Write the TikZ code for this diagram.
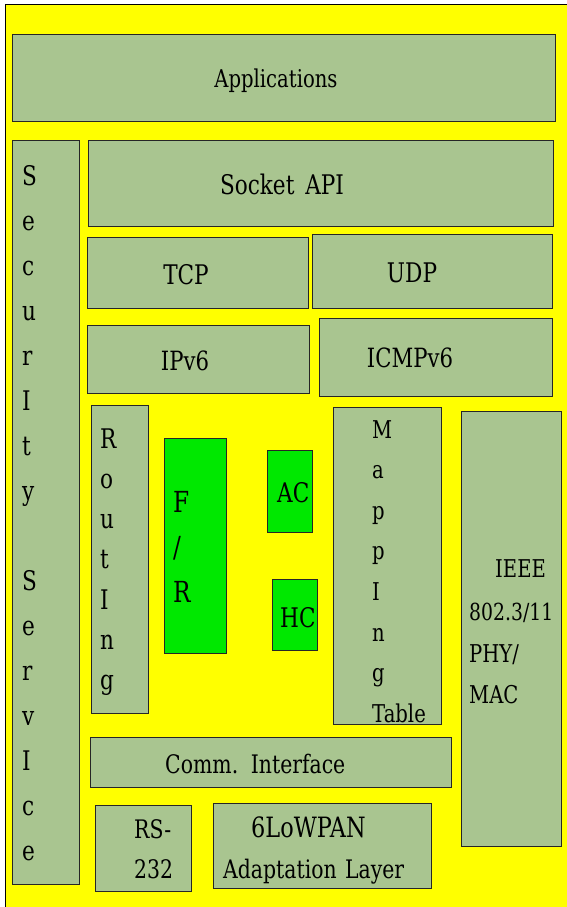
\documentclass[tikz,border=0pt]{standalone}
\usepackage{fontspec}
\setmainfont{DejaVu Serif}[FakeStretch=0.8]
\usetikzlibrary{fit}
\definecolor{sage}{RGB}{169,197,144}
\definecolor{brightgreen}{RGB}{0,232,0}
\definecolor{bgyellow}{RGB}{255,255,0}
\newcommand\fsz[1]{\fontsize{#1}{#1}\selectfont}
\begin{document}
\begin{tikzpicture}[x=1pt,y=-1pt,
  box/.style={draw=black!85, line width=0.9pt, fill=sage, inner sep=0pt},
  gbox/.style={box, fill=brightgreen},
  lbl/.style={anchor=base west, inner sep=0pt, text=black},
  clbl/.style={anchor=base, inner sep=0pt, text=black}]
\useasboundingbox (0,0) rectangle (567,907);
\clip (0,0) rectangle (567,907);
\node[fill=bgyellow, draw=black, line width=1pt, fit={(5,5) (575,915)}, inner sep=0pt] (bg) {};
% boxes
\node[box, fit={(12,34) (555,121)}] (app) {};
\node[box, fit={(12,140) (79,884)}] (sec) {};
\node[box, fit={(88,140) (553,226)}] (sock) {};
\node[box, fit={(87,237) (308,308)}] (tcp) {};
\node[box, fit={(312,234) (552,308)}] (udp) {};
\node[box, fit={(87,325) (309,393)}] (ipv6) {};
\node[box, fit={(319,318) (552,396)}] (icmp) {};
\node[box, fit={(91,405) (148,713)}] (rout) {};
\node[gbox, fit={(164,438) (226,653)}] (fr) {};
\node[gbox, fit={(267,450) (312,532)}] (ac) {};
\node[gbox, fit={(272,579) (317,650)}] (hc) {};
\node[box, fit={(333,407) (441,724)}] (map) {};
\node[box, fit={(461,411) (561,846)}] (ieee) {};
\node[box, fit={(90,737) (451,787)}] (comm) {};
\node[box, fit={(95,805) (191,891)}] (rs) {};
\node[box, fit={(213,803) (431,888)}] (lowpan) {};
% labels
\node[clbl, font=\fsz{24.5}] (tapp) at (276,88) {Applications};
\node[clbl, font=\fsz{27}] (tsock) at (282,194) {Socket\hspace{4pt} API};
\node[clbl, font=\fsz{27}] (ttcp) at (186,284) {TCP};
\node[clbl, font=\fsz{27}] (tudp) at (412,282) {UDP};
\node[clbl, font=\fsz{26.5}] (tipv6) at (185,370) {IPv6};
\node[clbl, font=\fsz{26.5}] (ticmp) at (410,367) {ICMPv6};
\foreach \c [count=\i from 0] in {S,e,c,u,r,I,t,y,,S,e,r,v,I,c,e}
  \node[lbl, font=\fsz{27}] (sec\i) at (22,185+45*\i) {\c};
\foreach \c [count=\i from 0] in {R,o,u,t,I,n,g}
  \node[lbl, font=\fsz{27}] (rt\i) at (100,448+40.3*\i) {\c};
\foreach \c [count=\i from 0] in {F,/,R}
  \node[lbl, font=\fsz{29}] (fr\i) at (173,512+45*\i) {\c};
\node[lbl, font=\fsz{27}] (tac) at (277,502) {AC};
\node[lbl, font=\fsz{27}] (thc) at (280,627) {HC};
\foreach \c [count=\i from 0] in {M,a,p,p,I,n,g,Table}
  \node[lbl, font=\fsz{24.5}] (mp\i) at (372,438+40.6*\i) {\c};
\node[lbl, font=\fsz{24.5}] (ie1) at (495,577) {IEEE};
\node[lbl, font=\fsz{23.5}] (ie2) at (469,620) {802.3/11};
\node[lbl, font=\fsz{24.5}] (ie3) at (469,662) {PHY/};
\node[lbl, font=\fsz{24.5}] (ie4) at (469,703) {MAC};
\node[lbl, font=\fsz{25.5}] (tcomm) at (165,773) {Comm.\hspace{4pt} Interface};
\node[lbl, font=\fsz{25.5}] (trs1) at (134,838) {RS-};
\node[lbl, font=\fsz{25.5}] (trs2) at (134,878) {232};
\node[lbl, font=\fsz{28}] (tlp1) at (251,837) {6LoWPAN};
\node[lbl, font=\fsz{25.5}] (tlp2) at (223,878) {Adaptation\hspace{2pt} Layer};
\end{tikzpicture}
\end{document}
